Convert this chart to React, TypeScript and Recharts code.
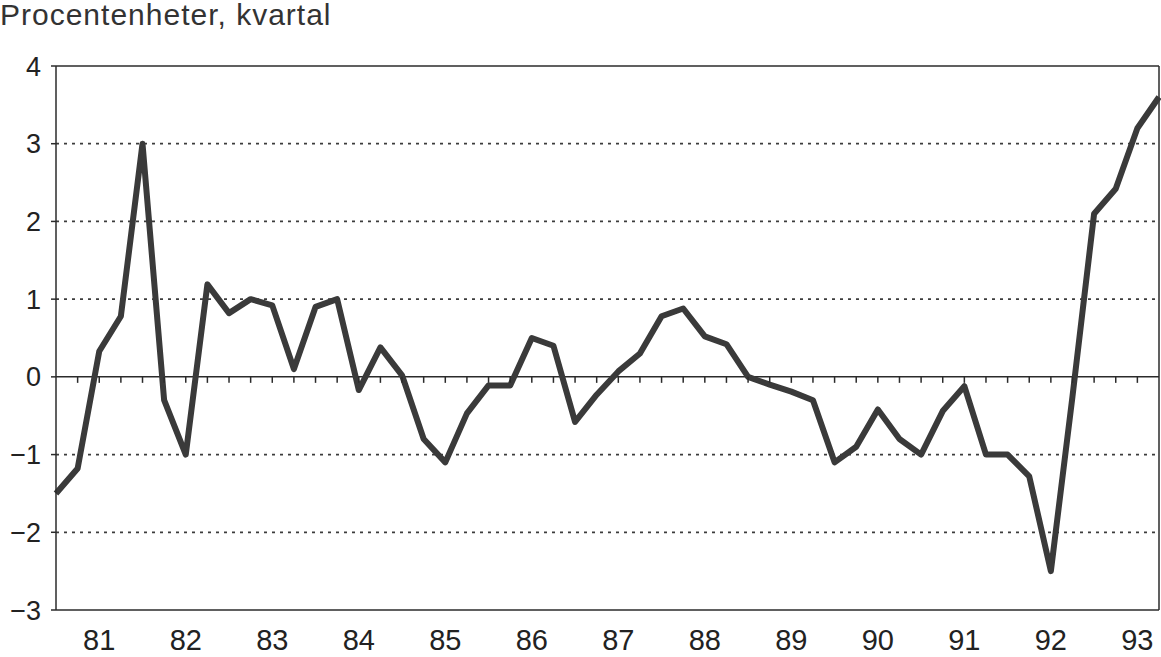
import { CartesianGrid, Line, LineChart, ReferenceLine, XAxis, YAxis } from 'recharts';

const INK = '#2b2b2b';
const GRID = '#3c3c3c';
const FONT = '"Liberation Sans", Arial, sans-serif';

const YEARS = ['81', '82', '83', '84', '85', '86', '87', '88', '89', '90', '91', '92', '93'];
const QUARTERS = YEARS.flatMap((y) => [`${y}:1`, `${y}:2`, `${y}:3`, `${y}:4`]);

// procentenheter, one value per quarter 81:1 .. 93:4
const VALUES = [
  -1.5, -1.18, 0.33, 0.78, 3.0, -0.3, -1.0, 1.19, 0.82, 1.0, 0.92, 0.1,
  0.9, 1.0, -0.17, 0.38, 0.02, -0.8, -1.1, -0.47, -0.11, -0.11, 0.5, 0.4,
  -0.58, -0.23, 0.07, 0.3, 0.78, 0.88, 0.52, 0.42, 0.0, -0.1, -0.19, -0.3,
  -1.1, -0.9, -0.42, -0.8, -1.0, -0.44, -0.12, -1.0, -1.0, -1.28, -2.5, -0.25,
  2.1, 2.42, 3.2, 3.6,
];

const Y_TICKS = [-3, -2, -1, 0, 1, 2, 3, 4];
const GRID_VALUES = [-2, -1, 1, 2, 3];

const data = QUARTERS.map((q, i) => ({ i, q, value: VALUES[i] }));
const yearTicks = QUARTERS.map((q, i) => (q.endsWith(':3') ? i : -1)).filter((i) => i >= 0);
const last = QUARTERS.length - 1;

const fmtY = (v: number) => (v < 0 ? `\u2212${Math.abs(v)}` : `${v}`);

// small ticks hanging below the zero line, one per quarter
const QuarterTick = (props: any) => {
  const { cx, cy, index } = props;
  if (index === 0 || index === last) return <g key={`t${index}`} />;
  return <line key={`t${index}`} x1={cx} x2={cx} y1={cy} y2={cy + 6} stroke={INK} strokeWidth={1.5} />;
};

export default function App() {
  return (
    <div style={{ position: 'absolute', left: 0, top: 0, width: 1161, height: 657, background: '#fff' }}>
      <div
        style={{
          position: 'absolute',
          left: 0,
          top: 0,
          fontFamily: FONT,
          fontSize: 30,
          lineHeight: 1,
          letterSpacing: 1,
          color: '#333',
        }}
      >
        Procentenheter, kvartal
      </div>
      <LineChart width={1161} height={657} data={data} margin={{ top: 66, right: 2, bottom: 0, left: 0 }}>
        <CartesianGrid vertical={false} horizontalValues={GRID_VALUES} stroke={GRID} strokeWidth={1.8} strokeDasharray="3 5" />
        <XAxis
          dataKey="i"
          type="number"
          domain={[0, last]}
          ticks={yearTicks}
          tickFormatter={(i: number) => QUARTERS[i].split(':')[0]}
          height={47}
          tickLine={false}
          tickSize={0}
          tickMargin={19}
          axisLine={{ stroke: INK, strokeWidth: 1.5 }}
          tick={{ fill: '#222', fontSize: 29, fontFamily: FONT }}
        />
        <YAxis
          type="number"
          domain={[-3, 4]}
          ticks={Y_TICKS}
          tickFormatter={fmtY}
          width={56}
          tickSize={5}
          tickMargin={10}
          axisLine={{ stroke: INK, strokeWidth: 1.5 }}
          tickLine={{ stroke: INK, strokeWidth: 1.5 }}
          tick={{ fill: '#222', fontSize: 27, fontFamily: FONT }}
        />
        <ReferenceLine y={4} stroke={INK} strokeWidth={1.5} />
        <ReferenceLine x={last} stroke={INK} strokeWidth={1.5} />
        <Line dataKey={() => 0} stroke={INK} strokeWidth={1.5} dot={QuarterTick} activeDot={false} isAnimationActive={false} />
        <Line
          dataKey="value"
          type="linear"
          stroke="#3a3a3a"
          strokeWidth={6}
          strokeLinejoin="round"
          dot={false}
          activeDot={false}
          isAnimationActive={false}
        />
      </LineChart>
    </div>
  );
}
